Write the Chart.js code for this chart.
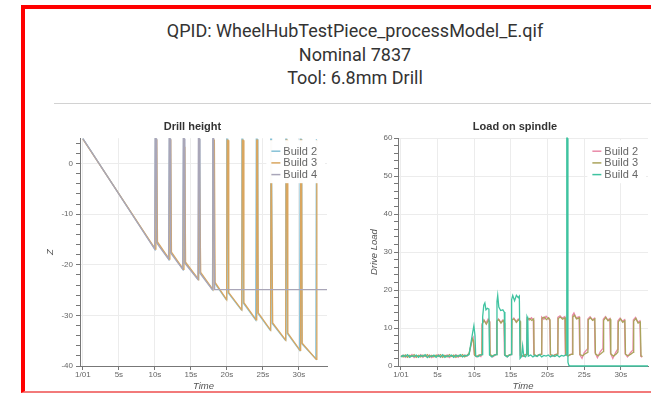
<!DOCTYPE html>
<html><head><meta charset="utf-8">
<script src="https://cdn.jsdelivr.net/npm/chart.js@4.4.1/dist/chart.umd.min.js"></script>
<style>
html,body{margin:0;padding:0;background:#fff;width:651px;height:394px;overflow:hidden;}
#frame{position:absolute;left:21px;top:5px;width:700px;height:382px;border-left:4px solid #ff0000;border-top:4px solid #ff0000;border-bottom:2px solid #f27a7a;}
#head{position:absolute;left:25px;top:19px;width:660px;text-align:center;font-family:Roboto,"Liberation Sans",sans-serif;font-size:18px;line-height:23.5px;color:#333;}
#rule{position:absolute;left:54px;top:103px;width:620px;height:1px;background:#d2d2d2;}
canvas{position:absolute;top:110px;}
#c1{left:25px;}
#c2{left:340px;}
</style></head><body>
<div id="frame"></div>
<div id="head"><div>QPID: WheelHubTestPiece_processModel_E.qif</div><div>Nominal 7837</div><div>Tool: 6.8mm Drill</div></div>
<div id="rule"></div>
<canvas id="c1" width="315" height="282"></canvas>
<canvas id="c2" width="311" height="282"></canvas>
<script>
// ---------- data ----------
const seriesNames = ['Build 2', 'Build 3', 'Build 4'];
const timeTickValues = [0, 5, 10, 15, 20, 25, 30];
const timeTickLabels = ['1/01', '5s', '10s', '15s', '20s', '25s', '30s'];
const zTickValues = [-40, -30, -20, -10, 0];
const loadTickValues = [0, 10, 20, 30, 40, 50, 60];

// Drill height: [time s, Z]
const heightBuild2 = [[0,4.9],
 [10.0,-16.9],[10.08,4.8],[10.2,4.8],[10.3,-15.6],
 [11.94,-18.9],[12.02,4.8],[12.14,4.8],[12.24,-17.6],
 [13.9,-20.9],[13.98,4.8],[14.1,4.8],[14.2,-19.6],
 [16.0,-22.9],[16.08,4.8],[16.2,4.8],[16.3,-21.6],
 [18.0,-24.9],[18.08,4.8],[18.2,4.8],[18.3,-23.6],
 [19.9,-26.9],[19.98,4.8],[20.1,4.8],[20.2,-25.6],
 [22.0,-28.9],[22.08,4.8],[22.2,4.8],[22.3,-27.6],
 [24.0,-30.9],[24.08,4.8],[24.2,4.8],[24.3,-29.6],
 [26.0,-32.9],[26.08,4.8],[26.2,4.8],[26.3,-31.6],
 [28.1,-34.9],[28.18,4.8],[28.3,4.8],[28.4,-33.6],
 [30.1,-36.9],[30.18,4.8],[30.3,4.8],[30.4,-35.6],
 [32.35,-38.6],[32.43,4.8]];
const heightBuild3 = [[0,4.8],
 [10.06,-16.9],[10.14,4.6],[10.26,4.6],[10.36,-15.5],
 [12.0,-18.9],[12.08,4.6],[12.2,4.6],[12.3,-17.5],
 [13.96,-20.9],[14.04,3.2],[14.16,3.2],[14.26,-19.5],
 [16.06,-22.9],[16.14,4.6],[16.26,4.6],[16.36,-21.5],
 [18.06,-24.9],[18.14,4.6],[18.26,4.6],[18.36,-23.5],
 [19.96,-26.9],[20.04,4.6],[20.16,4.6],[20.26,-25.5],
 [22.06,-28.9],[22.14,4.6],[22.26,4.6],[22.36,-27.5],
 [24.06,-30.9],[24.14,4.6],[24.26,4.6],[24.36,-29.5],
 [26.06,-32.9],[26.14,4.6],[26.26,4.6],[26.36,-31.5],
 [28.16,-34.9],[28.24,4.6],[28.36,4.6],[28.46,-33.5],
 [30.16,-36.9],[30.24,4.6],[30.36,4.6],[30.46,-35.5],
 [32.41,-38.7],[32.49,4.6]];
const heightBuild4 = [[0,4.9],
 [9.96,-16.9],[10.04,4.9],[10.16,4.9],[10.26,-15.7],
 [11.9,-18.9],[11.98,4.9],[12.1,4.9],[12.2,-17.7],
 [13.86,-20.9],[13.94,4.9],[14.06,4.9],[14.16,-19.7],
 [15.96,-22.9],[16.04,4.9],[16.16,4.9],[16.26,-21.7],
 [17.96,-24.9],[18.04,4.9],[18.16,4.9],[18.3,-24.9],
 [33.9,-24.9]];

// Load on spindle: [time s, drive load]
const loadBuild2 = [[0,2.5],[0.3,2.9],[0.6,2.3],[0.9,2.8],[1.2,2.4],[1.5,3.0],[1.8,2.2],[2.1,2.7],[2.4,2.5],[2.7,3.0],[3.0,2.3],[3.3,2.8],[3.6,2.4],[3.9,2.9],[4.2,2.2],[4.5,2.7],[4.8,2.6],[5.1,3.0],[5.4,2.3],[5.7,2.8],[6.0,2.5],[6.3,2.9],[6.6,2.2],[6.9,2.7],[7.2,2.4],[7.5,3.0],[7.8,2.3],[8.1,2.8],[8.4,2.5],[8.7,2.9],[9.0,2.6],[9.3,3.2],[9.5,5.0],[9.7,7.0],[9.85,7.5],[10.0,3.0],[10.3,2.4],[10.6,2.8],[10.9,2.5],
 [11.0,3.0],[11.05,10.8],[11.3,12.2],[11.6,11.3],[11.9,12.4],[12.05,11.8],[12.12,3.0],[12.5,2.4],[12.8,2.8],
 [13.0,3.1],[13.05,11.6],[13.3,12.4],[13.6,11.5],[13.9,12.1],[14.05,11.7],[14.12,3.0],[14.5,2.4],[14.8,2.9],
 [15.05,3.0],[15.1,12.0],[15.4,12.6],[15.7,11.7],[16.0,12.4],[16.2,12.0],[16.27,2.8],[16.6,2.5],[16.9,3.0],
 [17.15,3.1],[17.2,12.6],[17.5,12.1],[17.8,12.7],[18.05,12.2],[18.12,3.0],[18.5,2.5],[18.8,3.0],
 [19.15,3.1],[19.2,12.9],[19.5,12.3],[19.8,13.1],[20.1,12.5],[20.3,12.0],[20.37,3.0],[20.7,2.6],[21.0,3.0],
 [21.35,3.2],[21.4,12.8],[21.7,13.2],[22.0,12.6],[22.35,13.0],[22.42,2.9],[22.8,2.6],[23.1,3.0],
 [23.35,3.2],[23.4,13.3],[23.6,14.0],[23.9,12.7],[24.3,13.0],[24.38,3.0],[24.7,2.0],[25.0,3.5],
 [25.45,4.5],[25.5,12.4],[25.8,13.0],[26.1,12.2],[26.4,12.6],[26.48,3.5],[26.8,2.2],[27.2,3.8],
 [27.55,4.6],[27.6,12.3],[27.9,13.0],[28.2,12.1],[28.5,12.5],[28.58,3.4],[28.9,2.0],[29.3,3.6],
 [29.55,4.4],[29.6,11.9],[29.9,12.6],[30.2,11.8],[30.5,12.2],[30.58,3.2],[30.9,2.4],[31.3,3.5],
 [31.65,4.2],[31.7,12.1],[32.0,12.8],[32.3,11.6],[32.6,11.9],[32.7,2.6],[32.9,2.3]];
const loadBuild3 = [[0,2.7],[0.3,2.4],[0.6,2.9],[0.9,2.3],[1.2,2.8],[1.5,2.5],[1.8,3.0],[2.1,2.3],[2.4,2.8],[2.7,2.4],[3.0,2.9],[3.3,2.5],[3.6,3.0],[3.9,2.3],[4.2,2.8],[4.5,2.4],[4.8,2.9],[5.1,2.5],[5.4,3.0],[5.7,2.3],[6.0,2.8],[6.3,2.4],[6.6,3.0],[6.9,2.5],[7.2,2.9],[7.5,2.3],[7.8,2.8],[8.1,2.5],[8.4,3.0],[8.7,2.4],[9.0,2.8],[9.3,3.4],[9.55,5.5],[9.75,7.2],[9.9,6.6],[10.05,2.8],[10.4,2.5],[10.7,2.9],
 [11.05,3.0],[11.1,11.2],[11.35,12.0],[11.65,11.0],[11.95,12.1],[12.1,11.6],[12.17,3.0],[12.5,2.6],[12.85,3.0],
 [13.05,3.0],[13.1,11.9],[13.35,12.2],[13.65,11.3],[13.95,12.0],[14.1,11.4],[14.17,2.9],[14.5,2.6],[14.85,3.0],
 [15.1,3.1],[15.15,12.2],[15.45,12.4],[15.75,11.5],[16.05,12.2],[16.25,11.8],[16.32,2.9],[16.7,2.6],[17.0,3.0],
 [17.2,3.0],[17.25,12.3],[17.55,12.5],[17.85,12.0],[18.1,12.4],[18.17,3.0],[18.5,2.7],[18.9,3.0],
 [19.2,3.1],[19.25,12.6],[19.55,12.9],[19.85,12.2],[20.15,12.7],[20.33,12.2],[20.4,3.0],[20.8,2.7],[21.1,3.0],
 [21.4,3.1],[21.45,12.5],[21.75,12.9],[22.05,12.3],[22.4,12.7],[22.47,3.0],[22.8,2.7],[23.1,3.0],
 [23.4,3.1],[23.45,12.9],[23.65,13.4],[23.95,12.4],[24.35,12.7],[24.43,3.0],[24.8,2.7],[25.1,3.2],
 [25.5,3.6],[25.55,12.2],[25.85,12.7],[26.15,12.0],[26.45,12.4],[26.53,3.2],[26.9,2.7],[27.3,3.3],
 [27.6,3.8],[27.65,12.0],[27.95,12.8],[28.25,11.9],[28.55,12.3],[28.63,3.2],[29.0,2.6],[29.4,3.2],
 [29.6,3.7],[29.65,11.6],[29.95,12.4],[30.25,11.5],[30.55,11.9],[30.63,3.1],[31.0,2.7],[31.4,3.2],
 [31.7,3.6],[31.75,11.8],[32.05,12.5],[32.35,11.3],[32.65,11.6],[32.75,2.7],[32.95,2.5]];
const loadBuild4 = [[0,2.4],[0.3,2.8],[0.6,2.5],[0.9,3.0],[1.2,2.3],[1.5,2.7],[1.8,2.5],[2.1,2.9],[2.4,2.3],[2.7,2.8],[3.0,2.5],[3.3,3.0],[3.6,2.2],[3.9,2.7],[4.2,2.5],[4.5,2.9],[4.8,2.3],[5.1,2.8],[5.4,2.4],[5.7,3.0],[6.0,2.3],[6.3,2.7],[6.6,2.5],[6.9,2.9],[7.2,2.3],[7.5,2.8],[7.8,2.5],[8.1,3.0],[8.4,2.4],[8.7,2.8],[9.0,2.7],[9.3,3.0],[9.5,5.5],[9.8,9.0],[9.95,10.6],[10.1,8.0],[10.2,2.6],[10.5,2.4],[10.8,2.9],
 [11.1,3.0],[11.15,13.0],[11.3,16.0],[11.45,16.6],[11.6,14.8],[11.8,15.2],[12.0,15.0],[12.08,2.9],[12.4,2.4],[12.7,2.9],
 [13.0,3.0],[13.1,17.0],[13.2,18.6],[13.35,15.5],[13.6,14.6],[13.9,14.8],[14.1,14.2],[14.18,2.8],[14.5,2.4],[14.8,2.9],
 [15.05,3.0],[15.1,17.5],[15.25,18.6],[15.5,17.2],[15.75,18.6],[16.0,18.0],[16.15,18.4],[16.25,2.0],[16.45,2.5],[16.6,5.3],[16.75,2.6],[17.0,2.4],
 [17.15,3.0],[17.2,13.0],[17.3,12.5],[17.38,2.6],[17.7,2.9],[18.0,2.4],[18.3,2.8],[18.6,2.5],[18.9,3.0],[19.2,2.4],[19.5,2.8],[19.8,2.6],[20.1,2.9],[20.4,2.4],[20.7,2.8],[21.0,2.5],[21.3,2.9],[21.6,2.4],[21.9,2.8],[22.2,2.6],[22.55,3.0],
 [22.62,60],[22.7,60],[22.78,1.0],[22.9,0.2],[23.1,0],[33.7,0]];

// ---------- styling ----------
const heightColors = ['#86c1d6', '#d9a65f', '#a9a6b8'];
const loadColors = ['#e98aa8', '#aaa35c', '#3fc3a0'];
const FONT = '"Liberation Sans", Arial, sans-serif';
Chart.defaults.font.family = FONT;

function toXY(arr) { return arr.map(p => ({x: p[0], y: p[1]})); }
function stepList(lo, hi, step) {
  const out = [];
  for (let v = lo; v <= hi + 1e-9; v += step) out.push(Math.round(v * 1000) / 1000);
  return out;
}

const insideLegend = {
  id: 'insideLegend',
  afterDraw(chart) {
    const ctx = chart.ctx, a = chart.chartArea, ds = chart.data.datasets;
    ctx.save();
    ctx.font = '11px ' + FONT;
    const tw = Math.max(...ds.map(d => ctx.measureText(d.label).width));
    const textRight = a.right - 10;
    const textLeft = textRight - tw;
    const sampleRight = textLeft - 3;
    const sampleLeft = sampleRight - 9;
    const row = 11.7;
    const firstY = a.top + 13;
    const boxTop = a.top + 2;
    const boxBottom = firstY + row * (ds.length - 1) + 8.6;
    ctx.fillStyle = 'rgba(255,255,255,0.96)';
    ctx.fillRect(sampleLeft - 5, boxTop, (a.right - 2) - (sampleLeft - 5), boxBottom - boxTop);
    ds.forEach((d, i) => {
      const y = firstY + i * row;
      ctx.strokeStyle = d.borderColor;
      ctx.lineWidth = 1.5;
      ctx.beginPath(); ctx.moveTo(sampleLeft, y); ctx.lineTo(sampleRight, y); ctx.stroke();
      ctx.fillStyle = '#666';
      ctx.textBaseline = 'middle';
      ctx.textAlign = 'left';
      ctx.fillText(d.label, textLeft, y + 0.5);
    });
    ctx.restore();
  }
};

function xAxis(min, max) {
  return {
    type: 'linear', min: min, max: max,
    afterBuildTicks: ax => { ax.ticks = timeTickValues.map(v => ({value: v})); },
    afterFit: ax => { ax.height = 26; },
    ticks: { autoSkip: false, maxRotation: 0, padding: 0, color: '#666', font: {size: 8},
      callback: v => { const i = timeTickValues.indexOf(v); return i < 0 ? '' : timeTickLabels[i]; } },
    grid: { color: '#ececec', tickColor: '#777', tickLength: 4 },
    border: { color: '#777' },
    title: { display: true, text: 'Time', color: '#555', font: {size: 9.5, style: 'italic'}, padding: {top: 0, bottom: 0} }
  };
}
function yAxis(min, max, majors, minors, title, width, titlePad, tickPad) {
  return {
    type: 'linear', min: min, max: max,
    afterBuildTicks: ax => { ax.ticks = minors.map(v => ({value: v})); },
    afterFit: ax => { ax.width = width; },
    ticks: { autoSkip: false, padding: tickPad, color: '#666', font: {size: 8},
      callback: v => majors.includes(v) ? String(v) : '' },
    grid: { color: c => (c.tick && majors.includes(c.tick.value)) ? '#ececec' : 'rgba(0,0,0,0)',
      tickColor: '#777', tickLength: 4 },
    border: { color: '#777' },
    title: { display: true, text: title, color: '#555', font: {size: 9.5, style: 'italic'}, padding: {top: titlePad, bottom: 0} }
  };
}
function makeDatasets(series, colors) {
  return series.map((s, i) => ({
    label: seriesNames[i], data: toXY(s), borderColor: colors[i], backgroundColor: colors[i],
    borderWidth: 1.3, pointRadius: 0, tension: 0, fill: false, clip: 4, order: series.length - 1 - i
  }));
}
function baseOptions(titleText, padL, padR, xs, ys) {
  return {
    responsive: false, animation: false, events: [], devicePixelRatio: 1,
    layout: { padding: {left: padL, right: padR, top: 0, bottom: 0} },
    scales: { x: xs, y: ys },
    plugins: {
      legend: {display: false}, tooltip: {enabled: false},
      title: { display: true, text: titleText, color: '#333', font: {size: 11, weight: 'bold'}, padding: {top: 10.4, bottom: 4.6} }
    }
  };
}

new Chart(document.getElementById('c1'), {
  type: 'line',
  data: { datasets: makeDatasets([heightBuild2, heightBuild3, heightBuild4], heightColors) },
  options: baseOptions('Drill height', 33, 13, xAxis(-0.4, 33.9),
    yAxis(-40, 5, zTickValues, stepList(-40, 4, 2), 'Z', 22, -13.7, 3)),
  plugins: [insideLegend]
});
new Chart(document.getElementById('c2'), {
  type: 'line',
  data: { datasets: makeDatasets([loadBuild2, loadBuild3, loadBuild4], loadColors) },
  options: baseOptions('Load on spindle', 42, 3, xAxis(-0.4, 33.7),
    yAxis(0, 60, loadTickValues, stepList(0, 60, 2), 'Drive Load', 16, -13.7, 1.5)),
  plugins: [insideLegend]
});
</script>
</body></html>
